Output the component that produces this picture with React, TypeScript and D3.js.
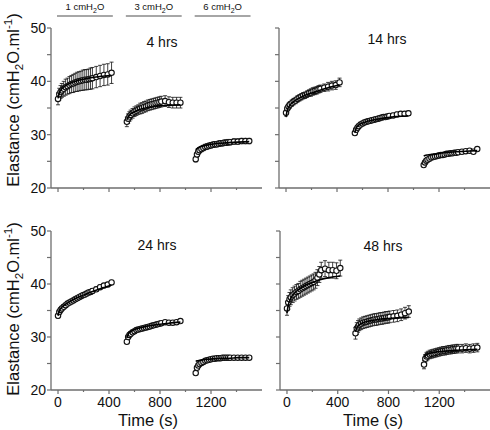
import React from "react";
import * as d3 from "d3";

// ---- data ----
const panelNames = ["4 hrs", "14 hrs", "24 hrs", "48 hrs"];
const pressureLabels = ["1", "3", "6"];
const phaseStarts = [0, 540, 1080];
const phaseLength = 420;
const sampleTimes = [0, 10, 20, 30, 45, 60, 75, 90, 105, 120, 135, 150, 165, 180, 195, 210, 225, 240, 255, 270, 300, 330, 360, 390, 420];
const fitTimes = [0, 10, 30, 60, 100, 150, 200, 260, 330, 420];
const yTicks = [20, 25, 30, 35, 40, 45, 50];
const xTicks = [0, 200, 400, 600, 800, 1000, 1200, 1400];
const xTickLabels = ["0", "", "400", "", "800", "", "1200", ""];

// mean elastance per panel per phase (sampleTimes)
const mean4h = [
  [36.7, 37.6, 38.0, 38.3, 38.6, 38.9, 39.1, 39.3, 39.5, 39.6, 39.8, 39.9, 40.0, 40.1, 40.2, 40.3, 40.3, 40.4, 40.5, 40.6, 40.8, 41.0, 41.2, 41.3, 41.6],
  [32.4, 33.0, 33.4, 33.7, 34.0, 34.3, 34.5, 34.7, 34.9, 35.0, 35.2, 35.3, 35.5, 35.6, 35.7, 35.8, 35.9, 36.0, 36.1, 36.2, 36.3, 36.1, 36.0, 36.0, 36.0],
  [25.4, 26.3, 26.8, 27.1, 27.3, 27.5, 27.7, 27.8, 27.9, 28.0, 28.1, 28.2, 28.2, 28.3, 28.4, 28.4, 28.5, 28.5, 28.6, 28.6, 28.7, 28.7, 28.8, 28.8, 28.8],
];
const mean14h = [
  [34.1, 34.9, 35.3, 35.6, 35.9, 36.2, 36.4, 36.7, 36.9, 37.1, 37.3, 37.4, 37.6, 37.8, 37.9, 38.1, 38.2, 38.3, 38.5, 38.6, 38.8, 39.0, 39.2, 39.3, 39.8],
  [30.3, 30.9, 31.3, 31.6, 31.9, 32.1, 32.3, 32.4, 32.5, 32.6, 32.7, 32.8, 32.9, 33.0, 33.1, 33.2, 33.3, 33.3, 33.4, 33.5, 33.6, 33.8, 33.9, 33.9, 34.0],
  [24.3, 24.8, 25.1, 25.3, 25.5, 25.7, 25.8, 25.9, 26.0, 26.1, 26.2, 26.2, 26.3, 26.4, 26.4, 26.5, 26.5, 26.6, 26.6, 26.7, 26.8, 26.9, 27.0, 26.8, 27.3],
];
const mean24h = [
  [34.0, 34.7, 35.1, 35.4, 35.7, 36.0, 36.3, 36.5, 36.7, 36.9, 37.1, 37.3, 37.5, 37.7, 37.9, 38.0, 38.2, 38.4, 38.5, 38.7, 39.0, 39.4, 39.7, 39.9, 40.3],
  [29.1, 30.0, 30.4, 30.6, 30.9, 31.1, 31.3, 31.4, 31.5, 31.6, 31.7, 31.8, 31.9, 32.0, 32.1, 32.2, 32.3, 32.4, 32.5, 32.6, 32.8, 32.7, 32.7, 32.8, 33.0],
  [23.2, 24.2, 24.6, 24.9, 25.1, 25.3, 25.5, 25.6, 25.7, 25.8, 25.9, 25.9, 26.0, 26.0, 26.0, 26.1, 26.1, 26.1, 26.1, 26.1, 26.1, 26.1, 26.1, 26.1, 26.1],
];
const mean48h = [
  [35.4, 36.5, 37.1, 37.5, 37.9, 38.2, 38.5, 38.7, 39.0, 39.2, 39.4, 39.6, 39.8, 40.0, 40.2, 40.4, 40.7, 41.2, 41.8, 42.6, 42.9, 42.6, 42.6, 42.5, 43.0],
  [30.7, 31.6, 32.0, 32.3, 32.5, 32.7, 32.8, 32.9, 33.0, 33.1, 33.2, 33.3, 33.3, 33.4, 33.5, 33.5, 33.6, 33.7, 33.7, 33.8, 33.9, 34.0, 34.2, 34.5, 34.8],
  [24.8, 25.9, 26.3, 26.5, 26.7, 26.8, 26.9, 27.0, 27.1, 27.2, 27.3, 27.4, 27.4, 27.5, 27.6, 27.6, 27.7, 27.7, 27.8, 27.8, 27.8, 27.9, 27.8, 27.9, 28.0],
];

// standard error per panel per phase (sampleTimes)
const err4h = [
  [1.1, 1.1, 1.2, 1.3, 1.4, 1.5, 1.5, 1.6, 1.6, 1.7, 1.7, 1.8, 1.8, 1.8, 1.9, 1.9, 1.9, 1.9, 2.0, 2.0, 2.0, 2.0, 2.0, 2.0, 2.0],
  [0.9, 0.9, 0.9, 0.9, 0.9, 0.9, 0.9, 0.9, 1.0, 1.0, 1.0, 1.0, 1.0, 1.0, 1.0, 1.0, 1.0, 1.0, 1.0, 1.0, 1.0, 1.0, 1.0, 1.0, 1.0],
  [0.5, 0.5, 0.5, 0.5, 0.5, 0.5, 0.5, 0.5, 0.5, 0.5, 0.5, 0.5, 0.5, 0.5, 0.5, 0.5, 0.5, 0.5, 0.5, 0.5, 0.5, 0.5, 0.5, 0.5, 0.5],
];
const err14h = [
  [0.6, 0.6, 0.6, 0.6, 0.6, 0.6, 0.6, 0.6, 0.6, 0.6, 0.6, 0.6, 0.6, 0.6, 0.7, 0.7, 0.7, 0.7, 0.7, 0.7, 0.7, 0.8, 0.8, 0.8, 0.8],
  [0.4, 0.4, 0.4, 0.4, 0.4, 0.4, 0.4, 0.4, 0.4, 0.4, 0.4, 0.4, 0.4, 0.4, 0.4, 0.4, 0.4, 0.4, 0.4, 0.4, 0.4, 0.4, 0.4, 0.4, 0.4],
  [0.3, 0.3, 0.3, 0.3, 0.3, 0.3, 0.3, 0.3, 0.3, 0.3, 0.3, 0.3, 0.3, 0.3, 0.3, 0.3, 0.3, 0.3, 0.3, 0.3, 0.3, 0.3, 0.3, 0.3, 0.3],
];
const err24h = [
  [0.4, 0.4, 0.4, 0.4, 0.4, 0.4, 0.4, 0.4, 0.4, 0.4, 0.4, 0.4, 0.4, 0.4, 0.4, 0.4, 0.4, 0.4, 0.4, 0.4, 0.4, 0.4, 0.4, 0.4, 0.4],
  [0.3, 0.3, 0.3, 0.3, 0.3, 0.3, 0.3, 0.3, 0.3, 0.3, 0.3, 0.3, 0.3, 0.3, 0.3, 0.3, 0.3, 0.3, 0.3, 0.3, 0.3, 0.3, 0.3, 0.3, 0.3],
  [0.2, 0.2, 0.2, 0.2, 0.2, 0.2, 0.2, 0.2, 0.2, 0.2, 0.2, 0.2, 0.2, 0.2, 0.2, 0.2, 0.2, 0.2, 0.2, 0.2, 0.2, 0.2, 0.2, 0.2, 0.2],
];
const err48h = [
  [1.3, 1.3, 1.3, 1.4, 1.4, 1.4, 1.4, 1.4, 1.5, 1.5, 1.5, 1.5, 1.5, 1.5, 1.5, 1.5, 1.5, 1.5, 1.5, 1.5, 1.5, 1.5, 1.5, 1.5, 1.5],
  [1.1, 1.1, 1.1, 1.1, 1.1, 1.1, 1.1, 1.1, 1.1, 1.1, 1.1, 1.1, 1.1, 1.1, 1.1, 1.1, 1.1, 1.1, 1.1, 1.1, 1.1, 1.1, 1.1, 1.1, 1.1],
  [0.8, 0.8, 0.8, 0.8, 0.8, 0.8, 0.8, 0.8, 0.8, 0.8, 0.8, 0.8, 0.8, 0.8, 0.8, 0.8, 0.8, 0.8, 0.8, 0.8, 0.8, 0.8, 0.8, 0.8, 0.8],
];

// fitted curves per panel per phase (fitTimes)
const fit4h = [
  [36.8, 37.8, 38.6, 39.2, 39.7, 40.1, 40.4, 40.7, 40.9, 41.1],
  [32.8, 33.3, 33.9, 34.3, 34.7, 35.0, 35.2, 35.4, 35.5, 35.6],
  [27.2, 27.4, 27.7, 27.9, 28.1, 28.3, 28.4, 28.5, 28.6, 28.7],
];
const fit14h = [
  [33.3, 34.6, 35.5, 36.2, 36.8, 37.4, 37.8, 38.3, 38.8, 39.3],
  [30.4, 31.2, 31.8, 32.2, 32.5, 32.8, 33.0, 33.2, 33.4, 33.5],
  [26.0, 26.1, 26.2, 26.3, 26.4, 26.6, 26.7, 26.8, 26.9, 27.0],
];
const fit24h = [
  [34.0, 34.9, 35.6, 36.2, 36.8, 37.4, 37.9, 38.5, 39.1, 39.8],
  [29.8, 30.5, 31.0, 31.4, 31.7, 32.0, 32.2, 32.4, 32.6, 32.8],
  [25.4, 25.5, 25.6, 25.7, 25.8, 25.9, 26.0, 26.0, 26.1, 26.1],
];
const fit48h = [
  [34.5, 36.0, 37.3, 38.3, 39.1, 39.8, 40.3, 40.8, 41.2, 41.5],
  [31.0, 31.7, 32.3, 32.7, 33.0, 33.2, 33.4, 33.5, 33.6, 33.7],
  [26.3, 26.5, 26.8, 27.0, 27.2, 27.3, 27.4, 27.5, 27.6, 27.7],
];

const means = [mean4h, mean14h, mean24h, mean48h];
const errs = [err4h, err14h, err24h, err48h];
const fits = [fit4h, fit14h, fit24h, fit48h];

// ---- layout ----
const FONT = "'Liberation Sans', Arial, Helvetica, sans-serif";
const AXIS = "#6e6e6e";
const panels = [
  { x0: 51, x1: 262, y0: 188, y1: 28, showY: true, showX: false, label: [162, 47] },
  { x0: 279, x1: 490, y0: 188, y1: 28, showY: false, showX: false, label: [387, 44] },
  { x0: 51, x1: 262, y0: 390, y1: 231, showY: true, showX: true, label: [157, 250] },
  { x0: 280, x1: 490, y0: 390, y1: 231, showY: false, showX: true, label: [383, 251] },
];

function Panel({ idx }: { idx: number }) {
  const p = panels[idx];
  const x = d3.scaleLinear().domain([-55, 1600]).range([p.x0, p.x1]);
  const y = d3.scaleLinear().domain([20, 50]).range([p.y0, p.y1]);
  const line = d3
    .line<[number, number]>()
    .x((d) => x(d[0]))
    .y((d) => y(d[1]))
    .curve(d3.curveMonotoneX);
  const cap = 2;
  return (
    <g>
      {/* axes */}
      <line x1={p.x0} x2={p.x0} y1={y(50)} y2={y(20)} stroke={AXIS} strokeWidth={1.3} />
      <line x1={p.x0} x2={p.x1} y1={y(20)} y2={y(20)} stroke={AXIS} strokeWidth={1.3} />
      {yTicks.map((t) => (
        <line key={"yt" + t} x1={p.x0 - 4} x2={p.x0} y1={y(t)} y2={y(t)} stroke={AXIS} strokeWidth={1.2} />
      ))}
      {xTicks.map((t, i) => (
        <line key={"xt" + t} x1={x(t)} x2={x(t)} y1={y(20)} y2={y(20) + (i % 2 === 0 ? 4 : 2)} stroke={AXIS} strokeWidth={1.2} />
      ))}
      {p.showY &&
        [20, 30, 40, 50].map((t) => (
          <text key={"yl" + t} x={p.x0 - 5} y={y(t) + 5} textAnchor="end" fontSize={14} fontFamily={FONT} fill="#111">
            {t}
          </text>
        ))}
      {p.showX &&
        xTicks.map((t, i) =>
          xTickLabels[i] ? (
            <text key={"xl" + t} x={x(t)} y={y(20) + 17} textAnchor="middle" fontSize={14} fontFamily={FONT} fill="#111">
              {xTickLabels[i]}
            </text>
          ) : null
        )}
      {/* data */}
      {phaseStarts.map((s, ph) => {
        const m = means[idx][ph];
        const e = errs[idx][ph];
        const f = fits[idx][ph];
        const fitPts: [number, number][] = fitTimes.map((t, k) => [s + t, f[k]]);
        return (
          <g key={"ph" + ph}>
            {sampleTimes.map((t, k) => {
              const cx = x(s + t);
              return (
                <g key={"e" + k} stroke="#111" strokeWidth={0.8}>
                  <line x1={cx} x2={cx} y1={y(m[k] + e[k])} y2={y(m[k] - e[k])} />
                  <line x1={cx - cap} x2={cx + cap} y1={y(m[k] + e[k])} y2={y(m[k] + e[k])} />
                  <line x1={cx - cap} x2={cx + cap} y1={y(m[k] - e[k])} y2={y(m[k] - e[k])} />
                </g>
              );
            })}
            {sampleTimes.map((t, k) => (
              <circle key={"c" + k} cx={x(s + t)} cy={y(m[k])} r={2.7} fill="#fff" stroke="#111" strokeWidth={1.1} />
            ))}
            <path d={line(fitPts) || ""} fill="none" stroke="#000" strokeWidth={1.6} />
          </g>
        );
      })}
      <text x={p.label[0]} y={p.label[1]} textAnchor="middle" fontSize={14} fontFamily={FONT} fill="#111">
        {panelNames[idx]}
      </text>
    </g>
  );
}

function YLabel({ cy }: { cy: number }) {
  return (
    <text transform={`translate(18.5,${cy}) rotate(-90)`} textAnchor="middle" fontSize={16.5} fontFamily={FONT} fill="#111">
      Elastance (cmH
      <tspan fontSize={11.5} dy={4}>2</tspan>
      <tspan dy={-4}>O.ml</tspan>
      <tspan fontSize={11.5} dy={-7}>-1</tspan>
      <tspan dy={7}>)</tspan>
    </text>
  );
}

export default function App() {
  const xTop = d3.scaleLinear().domain([-55, 1600]).range([51, 262]);
  return (
    <svg width={490} height={430} style={{ position: "absolute", left: 0, top: 0, background: "#fff" }}>
      <rect width={490} height={430} fill="#fff" />
      {panelNames.map((_, i) => (
        <Panel key={i} idx={i} />
      ))}
      {phaseStarts.map((s, i) => (
        <g key={"pl" + i}>
          <line x1={xTop(s - 8)} x2={xTop(s + phaseLength + 10)} y1={16} y2={16} stroke="#888" strokeWidth={1.5} />
          <text x={(xTop(s - 8) + xTop(s + phaseLength + 10)) / 2} y={10} textAnchor="middle" fontSize={9.5} fontFamily={FONT} fill="#111">
            {pressureLabels[i]} cmH
            <tspan fontSize={7} dy={2.5}>2</tspan>
            <tspan dy={-2.5}>O</tspan>
          </text>
        </g>
      ))}
      <YLabel cy={100} />
      <YLabel cy={309} />
      <text x={148} y={426} textAnchor="middle" fontSize={16.5} fontFamily={FONT} fill="#111">Time (s)</text>
      <text x={373} y={426} textAnchor="middle" fontSize={16.5} fontFamily={FONT} fill="#111">Time (s)</text>
    </svg>
  );
}
